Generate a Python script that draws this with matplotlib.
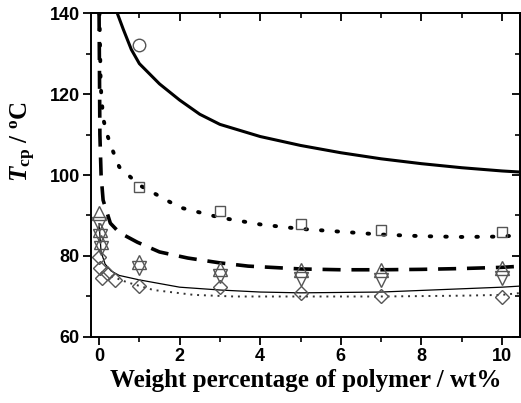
import matplotlib
matplotlib.use("Agg")
import matplotlib.pyplot as plt
from matplotlib.ticker import MultipleLocator

plt.rcParams['mathtext.fontset'] = 'custom'
plt.rcParams['mathtext.rm'] = 'Liberation Serif:bold'
plt.rcParams['mathtext.it'] = 'Liberation Serif:italic:bold'
plt.rcParams['mathtext.bf'] = 'Liberation Serif:bold'

# ---- data ----
circle_x = [1]
circle_y = [132]

square_x = [1, 3, 5, 7, 10]
square_y = [97, 91, 88, 86.5, 86]

tri_up_x = [0, 0.02, 0.05, 1, 3, 5, 7, 10]
tri_up_y = [90.5, 86.5, 83.5, 78.5, 76.8, 76.5, 76.5, 77]

tri_dn_x = [0, 0.02, 0.05, 1, 3, 5, 7, 10]
tri_dn_y = [88, 85, 82, 77, 75, 74.3, 74, 74.6]

diam_x = [0, 0.02, 0.08, 0.2, 0.4, 1, 3, 5, 7, 10]
diam_y = [79.8, 77, 74.6, 75.8, 74.1, 72.5, 72.3, 70.9, 70, 69.8]

fit_circle_x = [0.45, 0.6, 0.8, 1.0, 1.5, 2.0, 2.5, 3.0, 4.0, 5.0, 6.0, 7.0, 8.0, 9.0, 10.0, 10.5]
fit_circle_y = [140, 136, 131, 127.5, 122.5, 118.5, 115, 112.5, 109.5, 107.3, 105.5, 104, 102.8, 101.8, 101, 100.7]

fit_square_x = [0.01, 0.04, 0.1, 0.2, 0.3, 0.5, 1.0, 2.0, 3.0, 4.0, 5.0, 6.0, 7.0, 8.0, 9.0, 10.0, 10.5]
fit_square_y = [140, 122, 114, 110, 107, 102, 97.5, 92, 89.5, 87.8, 86.7, 86, 85.3, 84.9, 84.7, 84.8, 85.2]

fit_tri_x = [0.0, 0.02, 0.05, 0.1, 0.28, 0.5, 0.95, 1.5, 2.2, 3.0, 3.7, 5.0, 6.0, 7.0, 8.0, 9.0, 10.0, 10.5]
fit_tri_y = [140, 110, 100, 93.8, 88.1, 85.8, 83.4, 81, 79.5, 78.3, 77.5, 76.8, 76.6, 76.6, 76.7, 76.9, 77.2, 77.5]

fit_solid_x = [0.0, 0.05, 0.15, 0.3, 0.5, 1.0, 2.0, 3.0, 4.0, 5.0, 7.0, 10.0, 10.5]
fit_solid_y = [88, 81, 78, 76.3, 75.2, 74.1, 72.3, 71.6, 71.1, 70.9, 71.1, 72.3, 72.6]

fit_dot_x = [0.3, 0.7, 1.35, 2.35, 3.35, 4.0, 5.0, 7.0, 9.0, 10.0, 10.5]
fit_dot_y = [75.0, 73.5, 71.6, 70.4, 70.0, 70.0, 70.0, 70.0, 70.2, 70.4, 70.9]

xticks = [0, 2, 4, 6, 8, 10]
yticks = [60, 80, 100, 120, 140]

# ---- figure ----
fig = plt.figure(figsize=(5.21, 4.03), dpi=100)
ax = fig.add_axes([0.1747, 0.1638, 0.8235, 0.8039])

mk = '#555555'
ax.plot(fit_circle_x, fit_circle_y, color='black', lw=2.2, solid_capstyle='round')
ax.plot(fit_square_x, fit_square_y, color='black', lw=2.8, linestyle=(0, (0.4, 3.6)),
        dash_capstyle='round')
ax.plot(fit_tri_x, fit_tri_y, color='black', lw=2.6, linestyle=(0, (5, 3)))
ax.plot(fit_solid_x, fit_solid_y, color='black', lw=0.9)
ax.plot(fit_dot_x, fit_dot_y, color='#333333', lw=1.4, linestyle=(0, (1, 2.5)))

ax.plot(circle_x, circle_y, 'o', mfc='none', mec=mk, ms=9, mew=1.0)
ax.plot(square_x, square_y, 's', mfc='none', mec=mk, ms=7.5, mew=1.0)
ax.plot(tri_up_x, tri_up_y, '^', mfc='none', mec=mk, ms=9.5, mew=1.0)
ax.plot(tri_dn_x, tri_dn_y, 'v', mfc='none', mec=mk, ms=9.5, mew=1.0)
ax.plot(diam_x, diam_y, 'D', mfc='none', mec=mk, ms=7.5, mew=1.0)

ax.set_xlim(-0.2, 10.45)
ax.set_ylim(60, 140)
ax.set_xticks(xticks)
ax.set_yticks(yticks)
ax.xaxis.set_minor_locator(MultipleLocator(1))
ax.yaxis.set_minor_locator(MultipleLocator(10))

for s in ax.spines.values():
    s.set_linewidth(1.4)

ax.tick_params(which='major', direction='out', length=6, width=1.3, labelsize=13, pad=2)
ax.tick_params(which='minor', direction='out', length=3.5, width=1.2)
for lab in ax.get_xticklabels() + ax.get_yticklabels():
    lab.set_fontfamily('Liberation Sans')
    lab.set_fontweight('bold')

top = ax.secondary_xaxis('top')
top.set_xticks(xticks)
top.xaxis.set_minor_locator(MultipleLocator(1))
top.tick_params(which='major', direction='in', length=6, width=1.3, labeltop=False)
top.tick_params(which='minor', direction='in', length=3.5, width=1.2)
right = ax.secondary_yaxis('right')
right.set_yticks(yticks)
right.yaxis.set_minor_locator(MultipleLocator(10))
right.tick_params(which='major', direction='in', length=6, width=1.3, labelright=False)
right.tick_params(which='minor', direction='in', length=3.5, width=1.2)
for sa in (top, right):
    for s in sa.spines.values():
        s.set_linewidth(1.4)

ax.set_xlabel('Weight percentage of polymer / wt%', fontfamily='Liberation Serif',
              fontweight='bold', fontsize=18, labelpad=3)
ax.set_ylabel(r'$T_{\mathrm{cp}}$ / $^{\mathrm{o}}$C', fontfamily='Liberation Serif',
              fontweight='bold', fontsize=18)
ax.yaxis.set_label_coords(-0.123, 0.602)

fig.savefig('out.png', dpi=100)
